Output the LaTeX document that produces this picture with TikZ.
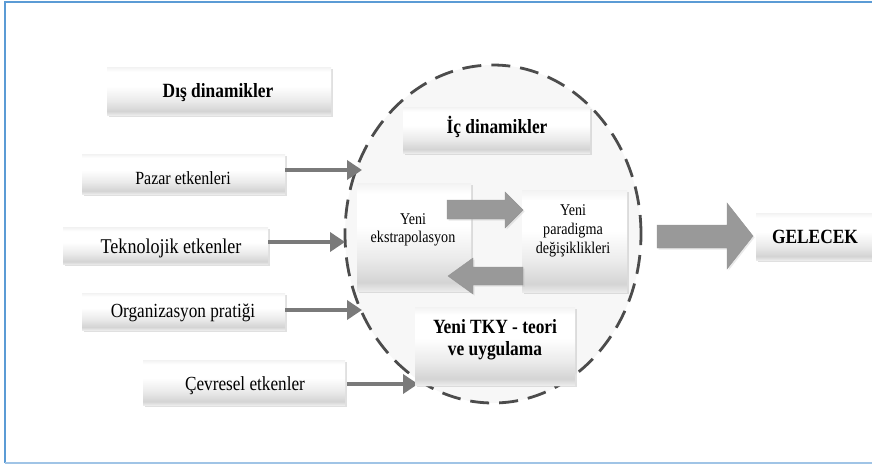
\documentclass[tikz,border=0pt]{standalone}
\usepackage{fontspec}
\setmainfont{Liberation Serif}[FakeStretch=0.86]
\usetikzlibrary{arrows.meta,shadows,shapes.geometric}
\definecolor{frameblue}{RGB}{91,155,213}
\definecolor{framelight}{RGB}{160,196,230}
\pgfdeclareverticalshading{boxshade}{100bp}{color(0bp)=(black!12); color(25bp)=(black!8); color(29bp)=(black!17); color(40bp)=(black!8); color(55bp)=(white); color(70bp)=(white); color(75bp)=(black!5); color(100bp)=(black!5)}
\begin{document}
\begin{tikzpicture}[x=1pt,y=-1pt,
  gbox/.style={rectangle, inner sep=0pt, draw=none, shading=boxshade,
    drop shadow={shadow xshift=1.5pt, shadow yshift=-1.5pt, fill=black!30, opacity=0.4}},
  boldtxt/.style={inner sep=0pt, font=\fontsize{20.2}{24}\selectfont\bfseries, align=center},
  regtxt/.style={inner sep=0pt, font=\fontsize{20}{24}\selectfont},
  smalltxt/.style={inner sep=0pt, font=\fontsize{16.4}{17.5}\selectfont, align=center},
  linearrow/.style={draw=black!52, line width=4.8pt, -{Triangle[length=15pt,width=19pt]}},
  blockarrow/.style={fill=black!40, draw=black!42, line width=0.4pt,
    drop shadow={shadow xshift=1.5pt, shadow yshift=-1.5pt, fill=black!25, opacity=0.35}},
  ellborder/.style={draw=black!70, line width=2.8pt, dash pattern=on 19pt off 10pt}
]
\useasboundingbox (0,0) rectangle (872,464);
% frame
\draw[frameblue, line width=2pt] (5,463) -- (5,2) -- (880,2);
\draw[framelight, line width=1.5pt] (5,463) -- (880,463);

% outer boxes
\node[gbox, minimum width=224pt, minimum height=48pt] (disbox) at (219,91) {};
\node[boldtxt] (dis) at (218,93) {Dış dinamikler};

\node[gbox, minimum width=203pt, minimum height=40pt] (pazarbox) at (183.5,174) {};
\node[regtxt, font=\fontsize{18.6}{22}\selectfont] (pazar) at (183,178) {Pazar etkenleri};

\node[gbox, minimum width=205pt, minimum height=37pt] (teknobox) at (165.5,246) {};
\node[regtxt, font=\fontsize{21}{24}\selectfont] (tekno) at (171,248) {Teknolojik etkenler};

\node[gbox, minimum width=203pt, minimum height=37pt] (orgbox) at (183.5,311.5) {};
\node[regtxt] (org) at (183,313) {Organizasyon pratiği};

\node[gbox, minimum width=202pt, minimum height=45pt] (cevbox) at (244,382.5) {};
\node[regtxt] (cev) at (245,386) {Çevresel etkenler};

% ellipse
\node[ellipse, inner sep=0pt, minimum width=296pt, minimum height=338pt, fill=black!3, ellborder] (ell) at (493,234) {};

% arrow tips on the ellipse
\coordinate (tpazar) at (362,170);
\coordinate (ttekno) at (345,242);
\coordinate (torg) at (362,310);
\coordinate (tcev) at (418,384);
\draw[linearrow] (pazarbox.east |- tpazar) -- (tpazar);
\draw[linearrow] (teknobox.east |- ttekno) -- (ttekno);
\draw[linearrow] (orgbox.east |- torg) -- (torg);
\draw[linearrow] ([xshift=2pt]cevbox.east |- tcev) -- (tcev);

% inner boxes
\node[gbox, minimum width=187pt, minimum height=46pt] (icbox) at (496.5,130) {};
\node[boldtxt] (ic) at (497,126.5) {İç dinamikler};

\node[gbox, minimum width=114pt, minimum height=108pt] (ekbox) at (414,237) {};
\node[smalltxt] (ek) at (413,230) {Yeni\\ekstrapolasyon};

\node[gbox, minimum width=105pt, minimum height=102pt] (parbox) at (574.5,241) {};
\node[smalltxt, font=\fontsize{16.4}{19}\selectfont] (par) at (573,231) {Yeni\\paradigma\\değişiklikleri};

\node[gbox, minimum width=160pt, minimum height=78pt] (tkybox) at (495,346) {};
\node[boldtxt, font=\fontsize{20.2}{22}\selectfont\bfseries] (tky) at (495,340) {Yeni TKY - teori\\ve uygulama};

% block arrows inside
\path[blockarrow] (447,200) -- (505,200) -- (505,192) -- (523,210) -- (505,228) -- (505,219) -- (447,219) -- cycle;
\path[blockarrow] (523,267) -- (473,267) -- (473,258) -- (448,276) -- (473,294) -- (473,285) -- (523,285) -- cycle;

% future
\path[blockarrow] (657,225) -- (727,225) -- (727,203) -- (753,236) -- (727,269) -- (727,248) -- (657,248) -- cycle;
\node[gbox, minimum width=124pt, minimum height=47pt] (gelbox) at (818,236.5) {};
\node[boldtxt] (gel) at (815,237) {GELECEK};
\end{tikzpicture}
\end{document}
